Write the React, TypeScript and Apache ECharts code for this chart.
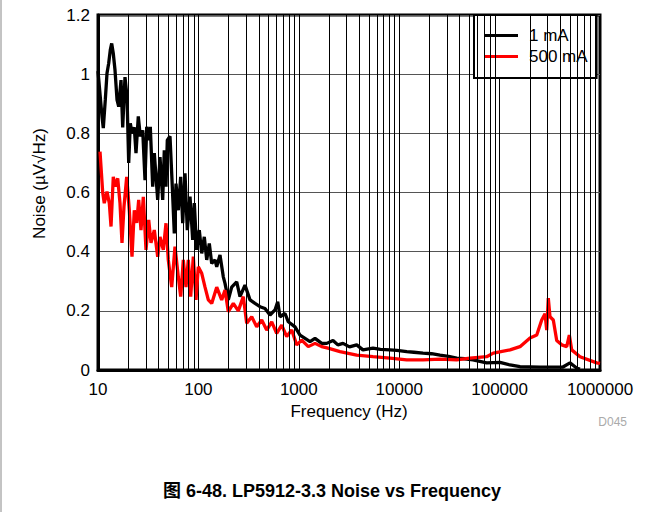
import React, { useEffect, useRef } from "react";
import * as echarts from "echarts";

const xTickLabels = ["10", "100", "1000", "10000", "100000", "1000000"];
const yTickLabels = ["0", "0.2", "0.4", "0.6", "0.8", "1", "1.2"];
const minorGridFreqs = [
  20, 30, 40, 50, 60, 70, 80, 90,
  200, 300, 400, 500, 600, 700, 800, 900,
  2000, 3000, 4000, 5000, 6000, 7000, 8000, 9000,
  20000, 30000, 40000, 50000, 60000, 70000, 80000, 90000,
  200000, 300000, 400000, 500000, 600000, 700000, 800000, 900000,
];

const freq1mA = [
  10, 10.96, 11.29, 11.82, 12.29, 12.78, 13.26, 13.69, 14.2, 14.77, 15.47, 16.08, 16.95, 17.62, 18.57, 19.45,
  20.22, 20.98, 21.81, 22.99, 23.9, 25.2, 26.39, 27.88, 29.39, 30.56, 31.99, 33.19, 35.06, 36.37, 39.32, 41.45,
  44.1, 45.74, 47.57, 49.01, 52.13, 54.95, 57.54, 59.83, 63.07, 66.64, 69.77, 73.54, 77.52, 82.48, 87.77, 91.04,
  96.18, 102.1, 107.9, 114.5, 121, 128.4, 135.7, 146.3, 152.2, 164.1, 177, 184.1, 198.6, 214.6, 240.7, 259.6,
  291.1, 326.6, 366.2, 410.7, 460.6, 516.7, 579.4, 616.5, 649.9, 728.9, 786.3, 916.5, 1028, 1153, 1293, 1450,
  1691, 1897, 2191, 2450, 2756, 3200, 3773, 4355, 5483, 6500, 8093, 9500, 11880, 14000, 17270, 21000, 25480,
  31000, 37370, 45000, 54330, 74300, 100900, 127000, 159600, 252500, 427600, 502300, 590000, 632000,
];
const noise1mA = [
  1.01, 0.857, 0.818, 0.913, 1.003, 1.037, 1.082, 1.104, 1.07, 1.014, 0.913, 0.89, 0.98, 0.82, 0.99, 0.924,
  0.7, 0.834, 0.8, 0.82, 0.733, 0.857, 0.79, 0.81, 0.642, 0.822, 0.777, 0.822, 0.62, 0.733, 0.575, 0.72,
  0.575, 0.743, 0.62, 0.777, 0.79, 0.62, 0.462, 0.63, 0.54, 0.653, 0.496, 0.665, 0.473, 0.586, 0.44, 0.564,
  0.406, 0.473, 0.394, 0.45, 0.372, 0.428, 0.36, 0.372, 0.349, 0.389, 0.315, 0.293, 0.237, 0.28, 0.298, 0.248,
  0.287, 0.237, 0.225, 0.214, 0.208, 0.186, 0.203, 0.231, 0.18, 0.191, 0.163, 0.146, 0.118, 0.107, 0.096, 0.107,
  0.09, 0.09, 0.1, 0.085, 0.09, 0.078, 0.085, 0.068, 0.074, 0.07, 0.068, 0.066, 0.062, 0.06, 0.057, 0.055, 0.05,
  0.046, 0.04, 0.038, 0.034, 0.024, 0.026, 0.017, 0.011, 0.01, 0.01, 0.024, 0.006, 0.003,
];

const freq500mA = [
  10.47, 11.14, 11.55, 12.29, 12.96, 13.48, 14.2, 14.87, 15.72, 16.56, 17.34, 18.15, 19.31, 20.5, 21.81, 22.99,
  24.29, 25.43, 26.81, 28.27, 30.07, 31.99, 33.72, 36.37, 39.32, 41.45, 44.71, 47.57, 50.14, 54.21, 58.47, 63.07,
  66.64, 70.74, 75.25, 79.32, 83.81, 88.97, 94.65, 99.77, 107.9, 116.4, 125.5, 135.7, 152.2, 170.6, 184.1, 198.6,
  222.7, 249.7, 280, 302.8, 339.6, 380.8, 427.1, 478.9, 537.2, 602, 675.6, 757.8, 850, 953, 1069, 1243, 1450,
  1691, 1954, 2572, 3773, 5483, 8093, 11880, 17270, 25480, 37370, 50700, 74300, 86500, 127000, 159600, 200900,
  234400, 262700, 283400, 294600, 305500, 317500, 342700, 370600, 415700, 466100, 494900, 522400, 632000, 927000,
  1000000,
];
const noise500mA = [
  0.738, 0.6, 0.564, 0.603, 0.564, 0.485, 0.653, 0.62, 0.648, 0.564, 0.43, 0.552, 0.653, 0.54, 0.383, 0.54,
  0.497, 0.575, 0.473, 0.585, 0.406, 0.507, 0.43, 0.473, 0.383, 0.45, 0.406, 0.496, 0.372, 0.28, 0.417, 0.315,
  0.248, 0.372, 0.28, 0.372, 0.248, 0.383, 0.237, 0.349, 0.327, 0.28, 0.237, 0.225, 0.28, 0.237, 0.27, 0.197,
  0.225, 0.2, 0.248, 0.158, 0.18, 0.146, 0.169, 0.135, 0.163, 0.124, 0.152, 0.113, 0.135, 0.085, 0.101, 0.079, 0.09,
  0.079, 0.074, 0.062, 0.05, 0.045, 0.04, 0.034, 0.034, 0.037, 0.034, 0.04, 0.045, 0.057, 0.068, 0.079, 0.108,
  0.118, 0.169, 0.19, 0.135, 0.243, 0.18, 0.169, 0.1, 0.085, 0.079, 0.118, 0.068, 0.045, 0.024,
  0.022,
];

const FONT = "'Liberation Sans', Arial, 'Noto Sans CJK SC', sans-serif";

export default function App() {
  const ref = useRef<HTMLDivElement>(null);
  useEffect(() => {
    if (!ref.current) return;
    const chart = echarts.init(ref.current, undefined, { renderer: "svg" });
    const data1 = freq1mA.map((f, i) => [f, noise1mA[i]]);
    const data2 = freq500mA.map((f, i) => [f, noise500mA[i]]);
    chart.setOption({
      animation: false,
      backgroundColor: "#fff",
      textStyle: { fontFamily: FONT },
      grid: {
        left: 98,
        top: 15,
        width: 502,
        height: 355,
        show: true,
        borderColor: "#000",
        borderWidth: 3,
        backgroundColor: "transparent",
      },
      xAxis: {
        type: "log",
        logBase: 10,
        min: 10,
        max: 1000000,
        name: "Frequency (Hz)",
        nameLocation: "middle",
        nameGap: 33,
        nameTextStyle: { fontSize: 17, color: "#000", fontFamily: FONT },
        axisLine: { show: true, lineStyle: { color: "#000", width: 3 } },
        axisTick: { show: false },
        axisLabel: {
          fontSize: 17,
          color: "#000",
          margin: 11,
          fontFamily: FONT,
          formatter: (v: number) => {
            const idx = Math.round(Math.log10(v)) - 1;
            return xTickLabels[idx] ?? String(Math.round(v));
          },
        },
        splitLine: { show: true, lineStyle: { color: "#000", width: 1 } },
      },
      yAxis: {
        type: "value",
        min: 0,
        max: 1.2,
        interval: 0.2,
        name: "Noise (µV√Hz)",
        nameLocation: "middle",
        nameGap: 50,
        nameTextStyle: { fontSize: 17, color: "#000", fontFamily: FONT, padding: [0, 0, 0, 18] },
        axisLine: { show: true, lineStyle: { color: "#000", width: 3 } },
        axisTick: { show: false },
        axisLabel: {
          fontSize: 17,
          color: "#000",
          margin: 8,
          fontFamily: FONT,
          formatter: (v: number) => yTickLabels[Math.round(v / 0.2)] ?? String(v),
        },
        splitLine: { show: true, lineStyle: { color: "#555", width: 1 } },
      },
      legend: {
        data: ["1 mA", "500 mA"],
        left: 474,
        top: 15,
        orient: "vertical",
        backgroundColor: "#fff",
        borderColor: "#000",
        borderWidth: 2,
        padding: [11, 9, 12, 10],
        itemWidth: 34,
        itemHeight: 3,
        itemGap: 2,
        icon: "rect",
        textStyle: {
          fontSize: 17,
          lineHeight: 19,
          color: "#000",
          fontFamily: FONT,
          padding: [0, 0, 0, 6],
        },
      },
      graphic: [
        {
          type: "line",
          shape: { x1: 1, y1: 0, x2: 1, y2: 512 },
          style: { stroke: "#888", lineWidth: 1 },
        },
        {
          type: "text",
          x: 627,
          y: 422,
          style: {
            text: "D045",
            fill: "#aaa",
            fontSize: 12,
            fontFamily: FONT,
            align: "right",
            verticalAlign: "middle",
          },
        },
        {
          type: "text",
          x: 332,
          y: 491,
          style: {
            text: "图 6-48. LP5912-3.3 Noise vs Frequency",
            fill: "#000",
            fontSize: 18,
            fontWeight: "bold",
            fontFamily: FONT,
            align: "center",
            verticalAlign: "middle",
          },
        },
      ],
      series: [
        {
          name: "grid-minor",
          type: "line",
          data: [[10, 0]],
          symbol: "none",
          lineStyle: { opacity: 0 },
          z: 1,
          silent: true,
          markLine: {
            silent: true,
            symbol: ["none", "none"],
            label: { show: false },
            lineStyle: { color: "#000", width: 1, type: "solid" },
            emphasis: { disabled: true },
            data: minorGridFreqs.map((f) => ({ xAxis: f })),
          },
        },
        {
          name: "1 mA",
          type: "line",
          data: data1,
          symbol: "none",
          z: 3,
          itemStyle: { color: "#000" },
          lineStyle: { color: "#000", width: 3.3 },
        },
        {
          name: "500 mA",
          type: "line",
          data: data2,
          symbol: "none",
          z: 4,
          itemStyle: { color: "#ff0000" },
          lineStyle: { color: "#ff0000", width: 3.3 },
        },
      ],
    });
    return () => chart.dispose();
  }, []);
  return (
    <div
      ref={ref}
      style={{ position: "fixed", left: 0, top: 0, width: 663, height: 512 }}
    />
  );
}
